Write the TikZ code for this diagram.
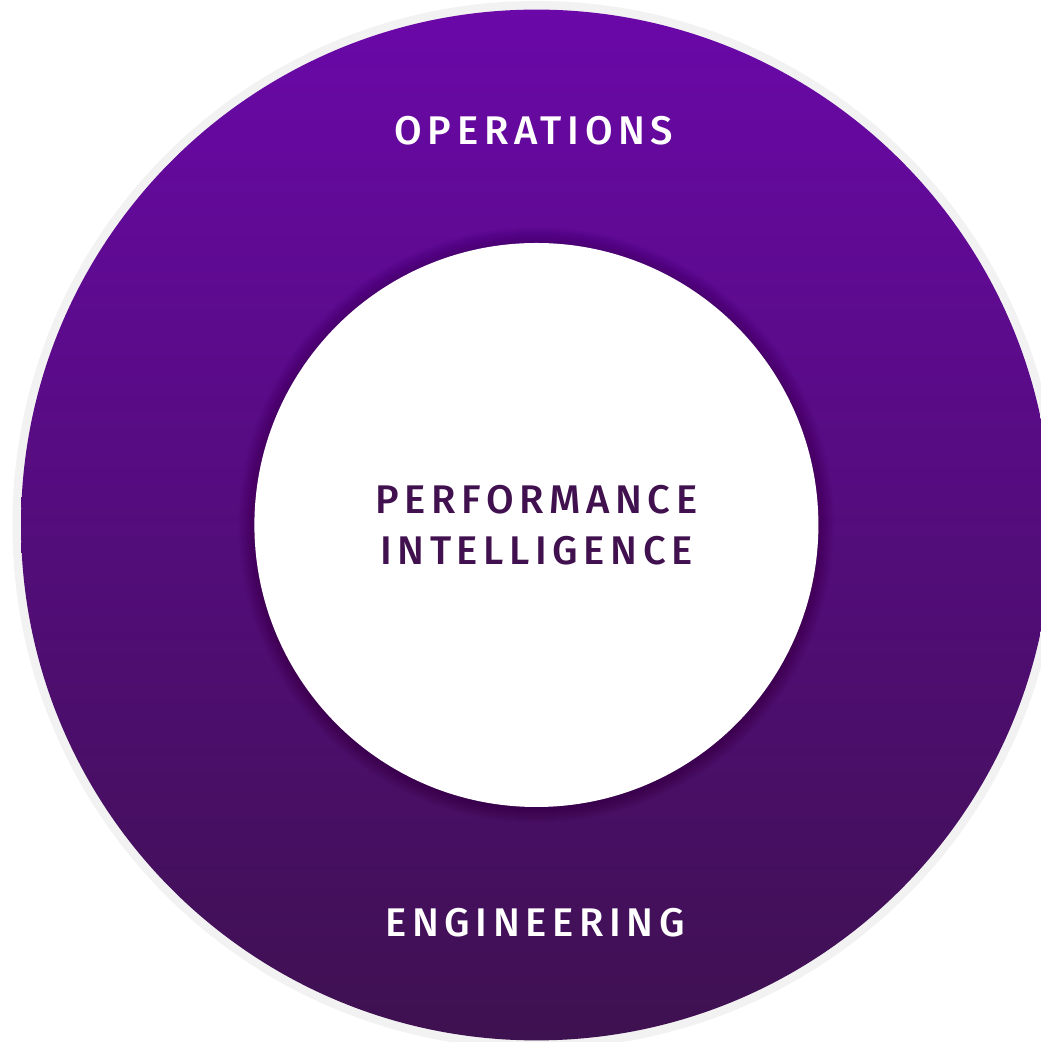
\documentclass[tikz,border=0pt]{standalone}
\usepackage{fontspec}
\setmainfont{Fira Sans}
\newfontfamily\ringfont{Fira Sans Medium}[LetterSpace=14]
\usetikzlibrary{positioning}
\definecolor{ringtop}{HTML}{6A08A8}
\definecolor{ringbottom}{HTML}{3E1150}
\definecolor{coretext}{HTML}{40104F}
\definecolor{rimgrey}{HTML}{F2F2F2}
\tikzset{ringlabel/.style={text=white,font=\ringfont\fontsize{30}{36}\selectfont},
  corelabel/.style={text=coretext,align=center,font=\ringfont\fontsize{30}{38}\selectfont}}

\begin{document}
\begin{tikzpicture}[x=0.75pt,y=0.75pt]
\useasboundingbox (0,0) rectangle (1040,1042);
\coordinate (O) at (536.4,517);
\fill[rimgrey] (O) circle[radius=524];
\shade[top color=ringtop,bottom color=ringbottom] (O) circle[radius=515.4];
% soft shadow round the core
\foreach \r in {1,...,16}
  \fill[black,opacity=0.011] (O) circle[radius=282+\r];
\fill[white] (O) circle[radius=282];
\node[ringlabel] (ops) at (534,911) {OPERATIONS};
\node[corelabel] (core) at (536.5,516.5) {PERFORMANCE\\INTELLIGENCE};
\node[ringlabel] (eng) at (535,119) {ENGINEERING};
\end{tikzpicture}
\end{document}
